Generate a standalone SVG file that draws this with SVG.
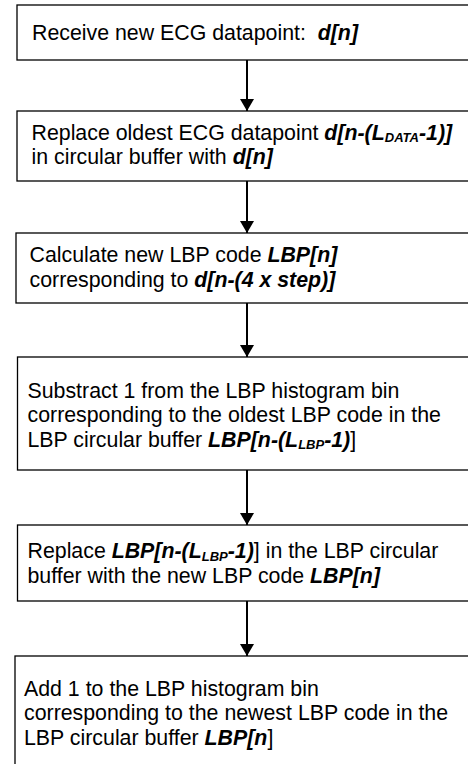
<svg xmlns="http://www.w3.org/2000/svg" width="468" height="764" viewBox="0 0 468 764">
<style>
.box{fill:#fff;stroke:#000;stroke-width:1.3}
.t{font-family:"Liberation Sans",Arial,sans-serif;font-size:21.33px;fill:#000}
.b{font-weight:bold;font-style:italic}
.s{font-size:13px}
.c{stroke:#000;stroke-width:2;fill:none}
</style>
<defs>
<marker id="arr" markerWidth="12" markerHeight="14" refX="12" refY="7" orient="auto" markerUnits="userSpaceOnUse" viewBox="0 0 12 14">
<path d="M0,0 L12,7 L0,14 Z" fill="#000"/>
</marker>
</defs>
<g id="connectors">
<line class="c" x1="247" y1="60" x2="247" y2="111" marker-end="url(#arr)"/>
<line class="c" x1="247" y1="181" x2="247" y2="233" marker-end="url(#arr)"/>
<line class="c" x1="247" y1="303" x2="247" y2="357" marker-end="url(#arr)"/>
<line class="c" x1="247" y1="470" x2="247" y2="525" marker-end="url(#arr)"/>
<line class="c" x1="247" y1="601" x2="247" y2="656" marker-end="url(#arr)"/>
</g>
<g id="n1">
<rect class="box" x="17" y="5" width="470" height="55"/>
<text class="t" x="32" y="40" xml:space="preserve">Receive new ECG datapoint:  <tspan class="b">d[n]</tspan></text>
</g>
<g id="n2">
<rect class="box" x="17" y="111" width="470" height="70"/>
<text class="t" x="31.5" y="139.5">Replace oldest ECG datapoint <tspan class="b">d[n-(L</tspan><tspan class="b s" dy="2.5">DATA</tspan><tspan class="b" dy="-2.5">-1)]</tspan></text>
<text class="t" x="31.5" y="164">in circular buffer with <tspan class="b">d[n]</tspan></text>
</g>
<g id="n3">
<rect class="box" x="16" y="233" width="470" height="70"/>
<text class="t" x="29.5" y="262">Calculate new LBP code <tspan class="b">LBP[n]</tspan></text>
<text class="t" x="29.5" y="286.5">corresponding to <tspan class="b">d[n-(4 x step)]</tspan></text>
</g>
<g id="n4">
<rect class="box" x="17.5" y="357" width="470" height="113"/>
<text class="t" x="27.5" y="397.5">Substract 1 from the LBP histogram bin</text>
<text class="t" x="27.5" y="422">corresponding to the oldest LBP code in the</text>
<text class="t" x="27.5" y="446.5">LBP circular buffer <tspan class="b">LBP[n-(L</tspan><tspan class="b s" dy="2.5">LBP</tspan><tspan class="b" dy="-2.5">-1)</tspan>]</text>
</g>
<g id="n5">
<rect class="box" x="17.5" y="525" width="470" height="76"/>
<text class="t" x="27.5" y="558">Replace <tspan class="b">LBP[n-(L</tspan><tspan class="b s" dy="2.5">LBP</tspan><tspan class="b" dy="-2.5">-1)</tspan>] in the LBP circular</text>
<text class="t" x="27.5" y="582.5">buffer with the new LBP code <tspan class="b">LBP[n]</tspan></text>
</g>
<g id="n6">
<rect class="box" x="15" y="656" width="470" height="130"/>
<text class="t" x="24" y="695.5">Add 1 to the LBP histogram bin</text>
<text class="t" x="24" y="720">corresponding to the newest LBP code in the</text>
<text class="t" x="24" y="744.5">LBP circular buffer <tspan class="b">LBP[n</tspan>]</text>
</g>
</svg>
